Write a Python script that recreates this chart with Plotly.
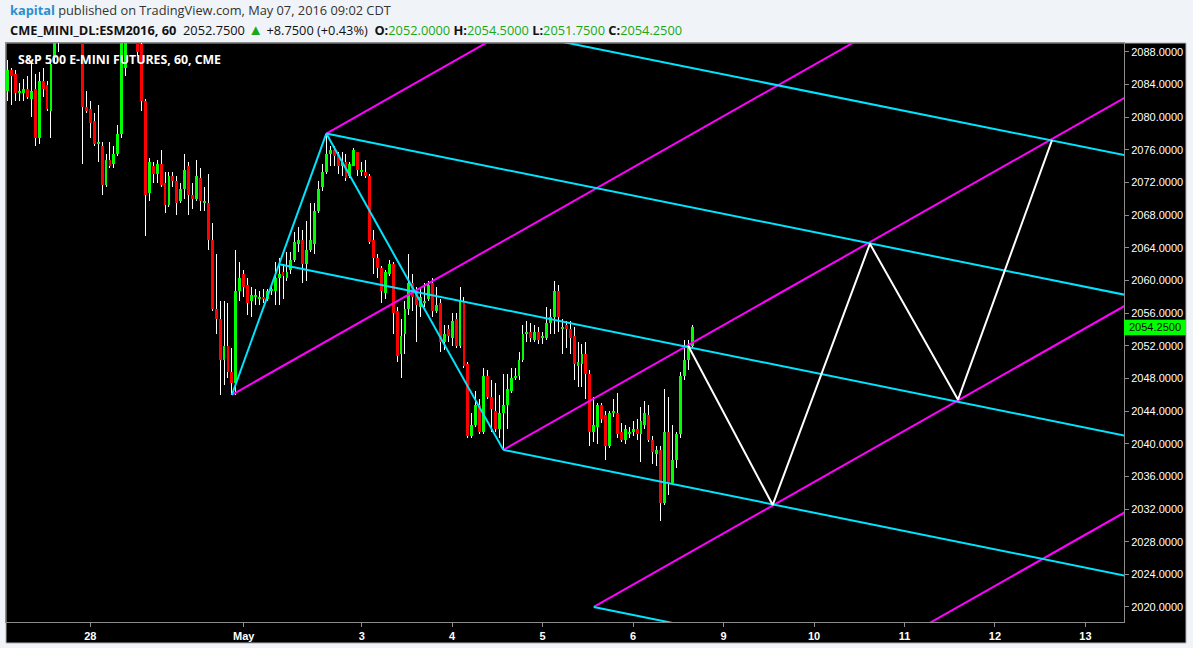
import plotly.graph_objects as go

W, H = 1193, 648
PL, PR, PT, PB = 6, 1124, 43, 622          # plot area edges in px
PANEL_R, PANEL_B = 1186, 643                # black chart panel edges

# ---------------- data (hourly bars, index = bar number) ----------------
opens = [2083.25, 2085.75, 2085.25, 2083.0, 2083.0, 2083.5, 2082.25, 2083.5, 2077.5, 2084.5,
         2084.0, 2080.75, 2087.25, 2092.0, 2090.0, 2092.5, 2094.0, 2093.0, 2094.5, 2093.5,
         2081.25, 2081.0, 2079.5, 2076.75, 2076.5, 2071.75, 2074.75, 2074.25, 2075.5, 2078.0,
         2086.0, 2092.0, 2094.0, 2092.0, 2089.0, 2082.0, 2070.75, 2074.0, 2073.0, 2074.25,
         2072.0, 2069.25, 2072.75, 2072.25, 2069.75, 2071.25, 2074.0, 2070.5, 2070.0, 2072.5,
         2069.5, 2069.5, 2065.0, 2056.5, 2055.25, 2050.25, 2052.0, 2048.75, 2047.5, 2058.75,
         2060.75, 2059.5, 2057.5, 2058.0, 2057.75, 2058.0, 2057.75, 2058.75, 2058.75, 2060.25,
         2061.0, 2060.25, 2061.25, 2062.5, 2064.5, 2065.0, 2062.0, 2063.75, 2064.5, 2068.5,
         2071.5, 2073.25, 2075.5, 2076.0, 2075.5, 2074.0, 2074.5, 2072.75, 2074.0, 2075.75,
         2073.25, 2073.25, 2072.75, 2065.0, 2062.75, 2061.5, 2058.5, 2060.75, 2062.0, 2056.25,
         2051.0, 2053.5, 2056.5, 2059.75, 2058.5, 2056.75, 2057.25, 2057.75, 2059.75, 2056.25,
         2057.25, 2052.5, 2054.0, 2053.0, 2055.25, 2052.0, 2057.5, 2049.75, 2041.0, 2042.25,
         2044.75, 2041.5, 2048.25, 2045.75, 2044.0, 2041.75, 2043.75, 2044.75, 2046.5, 2048.0,
         2048.25, 2050.25, 2053.5, 2053.75, 2052.75, 2053.75, 2053.0, 2053.0, 2054.75, 2055.5,
         2058.75, 2054.0, 2054.5, 2054.0, 2053.25, 2049.5, 2049.75, 2051.0, 2048.5, 2041.5,
         2042.0, 2044.75, 2043.5, 2039.75, 2043.75, 2043.75, 2041.5, 2040.5, 2041.25, 2041.5,
         2041.75, 2041.25, 2042.25, 2043.5, 2040.5, 2038.75, 2039.25, 2032.75, 2041.5, 2035.25,
         2038.0, 2041.25, 2048.25, 2050.25, 2052.0]
highs = [2087.0, 2086.0, 2085.75, 2084.25, 2084.75, 2085.0, 2086.75, 2085.25, 2085.5, 2086.0,
         2084.5, 2087.0, 2092.0, 2093.0, 2093.5, 2095.0, 2095.5, 2095.25, 2095.0, 2094.0,
         2083.25, 2082.0, 2080.5, 2081.5, 2077.0, 2075.5, 2077.0, 2076.5, 2079.0, 2091.0,
         2093.0, 2095.0, 2094.5, 2092.5, 2089.5, 2082.25, 2075.0, 2074.5, 2074.75, 2076.0,
         2073.25, 2073.25, 2073.25, 2072.75, 2072.0, 2075.5, 2074.5, 2072.0, 2074.75, 2073.75,
         2071.5, 2073.0, 2067.0, 2063.25, 2057.5, 2057.5, 2057.25, 2051.75, 2063.75, 2062.25,
         2061.25, 2060.25, 2059.25, 2059.0, 2058.75, 2059.0, 2059.0, 2059.25, 2062.25, 2062.75,
         2062.0, 2063.5, 2063.5, 2066.0, 2066.5, 2066.25, 2067.25, 2069.5, 2069.5, 2072.25,
         2074.25, 2078.0, 2076.5, 2076.5, 2075.75, 2075.75, 2075.5, 2074.5, 2076.25, 2075.75,
         2074.5, 2074.75, 2073.0, 2066.25, 2063.25, 2061.75, 2061.25, 2062.5, 2062.25, 2056.75,
         2055.25, 2057.5, 2063.25, 2060.75, 2059.25, 2059.25, 2059.75, 2060.0, 2060.25, 2059.25,
         2057.75, 2054.5, 2054.5, 2056.0, 2056.0, 2059.25, 2058.0, 2050.0, 2043.75, 2046.5,
         2045.5, 2049.25, 2049.0, 2047.75, 2047.5, 2046.0, 2048.5, 2048.5, 2049.25, 2049.25,
         2051.25, 2054.5, 2055.0, 2054.75, 2054.5, 2054.25, 2053.75, 2056.75, 2056.5, 2060.0,
         2059.5, 2055.25, 2055.0, 2055.0, 2054.25, 2052.5, 2052.25, 2052.5, 2049.0, 2045.75,
         2045.0, 2045.0, 2044.0, 2044.0, 2045.5, 2046.25, 2042.5, 2042.25, 2042.0, 2042.75,
         2043.0, 2044.5, 2045.25, 2044.75, 2041.0, 2039.75, 2039.75, 2046.75, 2045.75, 2042.25,
         2041.5, 2048.75, 2052.75, 2052.75, 2054.5]
lows = [2082.0, 2081.5, 2082.0, 2082.0, 2082.0, 2082.25, 2080.0, 2076.5, 2076.75, 2082.5,
        2080.75, 2077.5, 2086.75, 2088.0, 2089.5, 2092.0, 2092.25, 2092.5, 2092.75, 2074.25,
        2080.5, 2077.5, 2076.5, 2074.5, 2070.5, 2071.5, 2073.75, 2073.75, 2075.25, 2077.5,
        2085.0, 2091.5, 2090.5, 2087.5, 2080.75, 2065.5, 2069.75, 2072.0, 2072.0, 2071.5,
        2068.25, 2069.0, 2071.5, 2068.0, 2069.5, 2070.0, 2068.0, 2068.75, 2069.75, 2068.5,
        2068.5, 2063.75, 2056.25, 2053.5, 2046.0, 2047.25, 2048.0, 2046.0, 2046.0, 2057.5,
        2058.0, 2055.75, 2055.5, 2057.0, 2057.0, 2057.25, 2057.5, 2058.25, 2057.0, 2057.0,
        2057.75, 2060.0, 2060.75, 2062.25, 2063.5, 2059.75, 2060.0, 2063.5, 2063.25, 2068.25,
        2071.0, 2073.0, 2074.0, 2074.0, 2073.0, 2072.75, 2072.25, 2072.5, 2074.0, 2072.75,
        2072.75, 2072.5, 2064.5, 2060.75, 2060.25, 2057.25, 2057.75, 2060.5, 2053.5, 2050.0,
        2048.0, 2051.0, 2055.75, 2056.25, 2052.5, 2055.5, 2056.75, 2057.5, 2055.5, 2056.0,
        2051.25, 2051.5, 2052.5, 2052.0, 2051.75, 2051.75, 2049.25, 2040.75, 2040.75, 2042.0,
        2041.25, 2041.25, 2045.5, 2041.5, 2041.5, 2040.75, 2039.25, 2041.75, 2046.25, 2047.75,
        2047.75, 2050.0, 2052.5, 2052.5, 2052.5, 2052.25, 2052.25, 2052.75, 2053.5, 2053.5,
        2053.75, 2051.0, 2051.75, 2051.0, 2047.75, 2047.0, 2047.0, 2045.5, 2039.75, 2040.25,
        2040.0, 2042.5, 2038.0, 2039.5, 2043.25, 2040.75, 2040.25, 2040.0, 2040.75, 2041.0,
        2040.5, 2037.75, 2041.75, 2040.25, 2037.5, 2037.25, 2030.5, 2032.5, 2033.75, 2035.0,
        2037.0, 2040.75, 2047.75, 2049.0, 2051.75]
closes = [2085.75, 2085.0, 2083.0, 2083.25, 2083.5, 2082.5, 2083.25, 2077.5, 2084.5, 2083.5,
          2081.0, 2086.5, 2091.0, 2090.0, 2092.5, 2094.0, 2093.0, 2094.5, 2093.5, 2081.25,
          2080.75, 2079.25, 2076.75, 2077.0, 2071.75, 2074.75, 2074.0, 2075.5, 2078.0, 2090.0,
          2092.0, 2094.0, 2092.0, 2088.0, 2082.0, 2070.5, 2074.5, 2073.0, 2074.25, 2071.75,
          2069.25, 2072.75, 2072.25, 2069.5, 2071.25, 2073.5, 2070.5, 2070.0, 2072.75, 2069.75,
          2069.75, 2065.0, 2056.5, 2055.25, 2050.25, 2052.0, 2048.75, 2047.5, 2058.75, 2060.25,
          2059.25, 2057.25, 2058.25, 2058.25, 2058.0, 2057.75, 2058.75, 2059.0, 2060.25, 2060.75,
          2060.5, 2061.0, 2062.5, 2064.75, 2065.0, 2062.0, 2063.75, 2065.0, 2068.5, 2071.25,
          2073.25, 2075.5, 2076.0, 2075.25, 2074.0, 2074.5, 2072.5, 2074.25, 2076.0, 2073.5,
          2073.5, 2072.75, 2064.75, 2062.75, 2061.5, 2058.75, 2061.0, 2062.0, 2056.0, 2050.75,
          2053.25, 2056.5, 2059.75, 2058.0, 2057.0, 2058.0, 2057.5, 2059.5, 2056.25, 2057.0,
          2052.5, 2053.5, 2053.25, 2055.0, 2052.0, 2057.5, 2049.5, 2041.0, 2042.25, 2044.75,
          2041.5, 2048.25, 2045.75, 2044.25, 2041.75, 2043.75, 2044.75, 2046.75, 2048.0, 2048.25,
          2050.25, 2053.5, 2053.75, 2053.0, 2053.75, 2052.75, 2053.25, 2054.75, 2055.5, 2058.75,
          2055.5, 2054.25, 2054.0, 2053.0, 2049.75, 2050.0, 2051.0, 2048.5, 2041.5, 2042.25,
          2044.75, 2043.0, 2039.75, 2043.75, 2044.0, 2041.25, 2040.5, 2041.75, 2041.5, 2041.75,
          2041.25, 2042.75, 2043.75, 2040.5, 2039.0, 2039.25, 2032.75, 2041.5, 2035.25, 2038.0,
          2041.25, 2048.25, 2050.25, 2052.0, 2054.25]

# day labels on the time axis (bar number where each label sits)
day_tick_bars = [21, 60, 90, 113, 136, 159, 182, 205, 228, 251, 274]
day_tick_labels = ["28", "May", "3", "4", "5", "6", "9", "10", "11", "12", "13"]
price_ticks = list(range(2020, 2089, 4))

# drawing tools: (bar, price) anchor pairs
cyan_segments = [
    ((57, 2046.0), (81, 2078.0)),
    ((81, 2078.0), (126, 2039.25)),
    ((93, 2093.9), (284, 2075.35)),
    ((81, 2078.0), (284, 2058.25)),
    ((69, 2062.0), (284, 2041.0)),
    ((126, 2039.25), (284, 2023.85)),
    ((149, 2020.0), (284, 2006.8)),
]
magenta_segments = [
    ((81, 2078.0), (284, 2133.5)),
    ((57, 2046.0), (284, 2108.0)),
    ((126, 2039.25), (284, 2082.4)),
    ((149, 2020.0), (284, 2056.9)),
    ((172, 2001.0), (284, 2031.6)),
]
projection_bars = [173, 194.5, 219.2, 241.6, 265.5]
projection_prices = [2052.0, 2032.5, 2064.5, 2045.4, 2077.2]

x_range = [-0.43, 283.8]
y_range = [2018.16, 2089.10]

# ---------------- figure ----------------
bars = list(range(len(opens)))
up = [c >= o for o, c in zip(opens, closes)]
body_colors = ["#00ff00" if u else "#ff0000" for u in up]
body_base = [min(o, c) for o, c in zip(opens, closes)]
body_len = [max(abs(c - o), 0.12) for o, c in zip(opens, closes)]
wick_len = [h - l for h, l in zip(highs, lows)]

fig = go.Figure()
# very thin bars are expanded by plotly to exactly one crisp pixel
fig.add_trace(go.Bar(x=bars, y=wick_len, base=lows, width=0.01,
                     marker=dict(color="#ffffff", line=dict(width=0)),
                     hoverinfo="skip", showlegend=False))
fig.add_trace(go.Bar(x=bars, y=body_len, base=body_base, width=0.74,
                     marker=dict(color=body_colors, line=dict(width=0)),
                     hoverinfo="skip", showlegend=False))


def add_segments(segs, color):
    xs, ys = [], []
    for (x0, y0), (x1, y1) in segs:
        xs += [x0, x1, None]
        ys += [y0, y1, None]
    fig.add_trace(go.Scatter(x=xs, y=ys, mode="lines",
                             line=dict(color=color, width=2),
                             hoverinfo="skip", showlegend=False))


add_segments(magenta_segments, "#ff00ff")
add_segments(cyan_segments, "#00e5ff")
fig.add_trace(go.Scatter(x=projection_bars, y=projection_prices, mode="lines",
                         line=dict(color="#ffffff", width=2),
                         hoverinfo="skip", showlegend=False))

last_close = closes[-1]

fig.update_layout(
    width=W, height=H,
    margin=dict(l=0, r=0, t=0, b=0),
    paper_bgcolor="#f0f3f7",
    plot_bgcolor="#000000",
    barmode="overlay",
    bargap=0,
    showlegend=False,
    xaxis=dict(domain=[PL / W, PR / W], range=x_range, showgrid=False, zeroline=False,
               tickmode="array", tickvals=day_tick_bars, ticktext=day_tick_labels,
               ticks="outside", ticklen=4, tickcolor="#8c8c8c",
               tickfont=dict(family="Liberation Sans Narrow, Arial Narrow, Liberation Sans, Arial",
                             size=11, color="#ffffff", weight="bold"),
               showline=True, linecolor="#8c8c8c", linewidth=1, mirror=True, fixedrange=True),
    yaxis=dict(domain=[1 - PB / H, 1 - PT / H], range=y_range, side="right",
               showgrid=False, zeroline=False,
               tickmode="array", tickvals=price_ticks,
               ticktext=[f"{v:.4f}" for v in price_ticks],
               ticks="outside", ticklen=4, tickcolor="#8c8c8c",
               tickfont=dict(family="Liberation Sans, Arial", size=11, color="#ffffff"),
               showline=True, linecolor="#8c8c8c", linewidth=1, mirror=True, fixedrange=True),
    shapes=[
        dict(type="rect", xref="paper", yref="paper", layer="below",
             x0=PL / W, x1=PANEL_R / W, y0=1 - PANEL_B / H, y1=1 - PT / H,
             fillcolor="#000000", line=dict(color="#b0b0b0", width=1)),
        dict(type="rect", xref="paper", yref="y", layer="above",
             x0=PR / W, x1=PANEL_R / W, y0=last_close - 0.95, y1=last_close + 0.95,
             fillcolor="#00ff00", line=dict(width=0)),
    ],
    annotations=[
        dict(xref="paper", yref="paper", x=8 / W, y=1 - 10 / H, xanchor="left", yanchor="middle",
             showarrow=False,
             text="<span style='color:#2a8fd0'><b>kapital</b></span> published on TradingView.com, May 07, 2016 09:02 CDT",
             font=dict(family="Open Sans, Liberation Sans", size=12.8, color="#333333")),
        dict(xref="paper", yref="paper", x=8 / W, y=1 - 29 / H, xanchor="left", yanchor="middle",
             showarrow=False,
             text=("<b>CME_MINI_DL:ESM2016, 60</b>  2052.7500 <span style='color:#1aa81a;font-size:15px'>▲</span> +8.7500 (+0.43%) "
                   " <b>O:</b><span style='color:#1aa81a'>2052.0000</span>"
                   " <b>H:</b><span style='color:#1aa81a'>2054.5000</span>"
                   " <b>L:</b><span style='color:#1aa81a'>2051.7500</span>"
                   " <b>C:</b><span style='color:#1aa81a'>2054.2500</span>"),
             font=dict(family="Open Sans, Liberation Sans", size=12.8, color="#111111")),
        dict(xref="paper", yref="paper", x=16 / W, y=1 - 60 / H, xanchor="left", yanchor="middle",
             showarrow=False, text="<b>S&amp;P 500 E-MINI FUTURES, 60, CME</b>",
             font=dict(family="Open Sans, Liberation Sans", size=12.3, color="#ffffff")),
        dict(xref="paper", yref="y", x=(PR + PANEL_R) / 2 / W, y=last_close,
             xanchor="center", yanchor="middle", showarrow=False,
             text=f"{last_close:.4f}",
             font=dict(family="Liberation Sans, Arial", size=11, color="#0a0a0a")),
    ],
)

fig.write_html("out.html", config={"displayModeBar": False},
               post_script="document.body.style.margin='0';document.body.style.overflow='hidden';")
